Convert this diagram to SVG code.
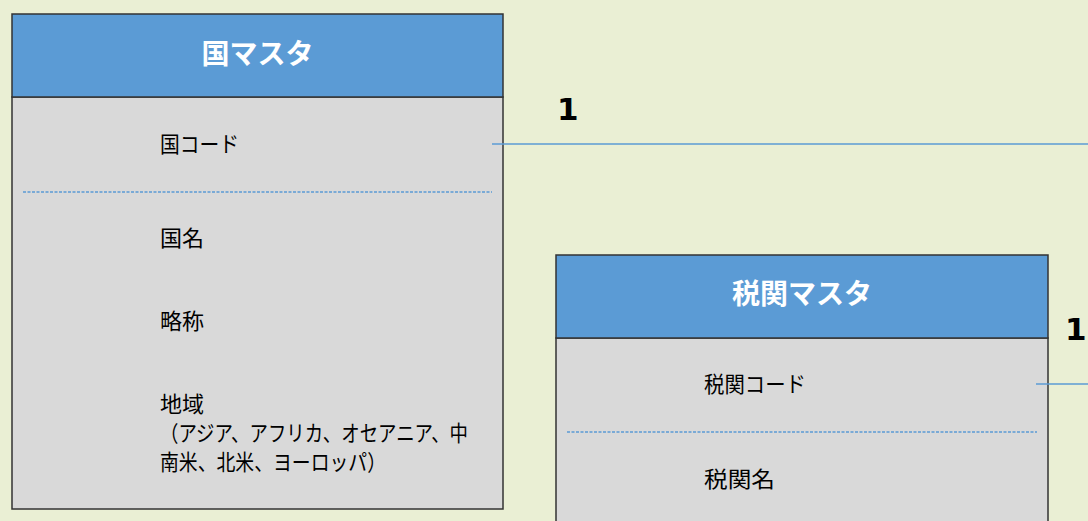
<svg xmlns="http://www.w3.org/2000/svg" width="1088" height="521" viewBox="0 0 1088 521">
<style>
.hdr{fill:#5B9BD5;stroke:#333;stroke-width:1.5}
.body{fill:#D9D9D9;stroke:#333;stroke-width:1.5}
.title{font-family:"Noto Sans CJK JP","Noto Sans",sans-serif;font-weight:700;font-size:28px;fill:#fff;text-anchor:middle}
.fld{font-family:"Noto Sans CJK JP","Noto Sans",sans-serif;font-size:22px;fill:#000}
.sep{stroke:#5B9BD5;stroke-width:1.5;stroke-dasharray:3 1.5}
.conn{stroke:#5B9BD5;stroke-width:1.3;fill:none}
.card{font-family:"DejaVu Sans",sans-serif;font-weight:700;font-size:31px;fill:#000}
</style>
<rect x="0" y="0" width="1088" height="521" fill="#EAEFD4"/>
<g id="country-master">
<rect class="body" x="12" y="97" width="491" height="412"/>
<rect class="hdr" x="12" y="14" width="491" height="83"/>
<text class="title" x="257.5" y="64">国マスタ</text>
<text class="fld" x="160" y="151.5" textLength="79" lengthAdjust="spacingAndGlyphs">国コード</text>
<line class="sep" x1="23" y1="192" x2="492" y2="192"/>
<text class="fld" x="160" y="245.5">国名</text>
<text class="fld" x="160" y="328.5">略称</text>
<text class="fld" x="160" y="411.5">地域</text>
<text class="fld" x="160" y="440.5" textLength="308" lengthAdjust="spacingAndGlyphs">（アジア、アフリカ、オセアニア、中</text>
<text class="fld" x="160" y="469.5" textLength="226" lengthAdjust="spacingAndGlyphs">南米、北米、ヨーロッパ）</text>
</g>
<g id="customs-master">
<rect class="body" x="556" y="338" width="492" height="200"/>
<rect class="hdr" x="556" y="255" width="492" height="83"/>
<text class="title" x="802" y="304">税関マスタ</text>
<text class="fld" x="704" y="391.5" textLength="102" lengthAdjust="spacingAndGlyphs">税関コード</text>
<line class="sep" x1="567" y1="432" x2="1037" y2="432"/>
<text class="fld" x="704" y="486.5" textLength="71" lengthAdjust="spacingAndGlyphs">税関名</text>
</g>
<g id="connectors">
<line class="conn" x1="492" y1="144" x2="1088" y2="144"/>
<line class="conn" x1="1036" y1="384" x2="1088" y2="384"/>
<text class="card" x="557" y="120">1</text>
<text class="card" x="1065" y="340">1</text>
</g>
</svg>
